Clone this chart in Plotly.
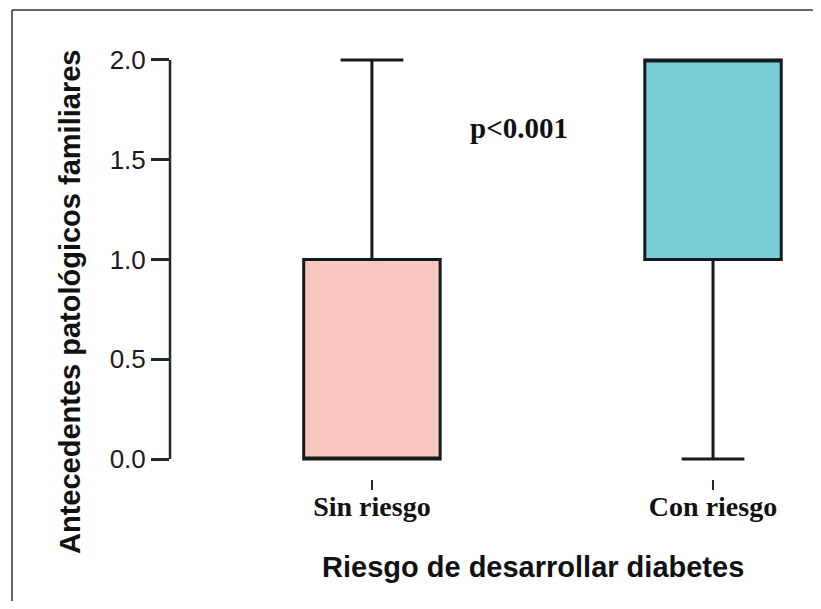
import plotly.graph_objects as go

# Data (box statistics)
groups = ["Sin riesgo", "Con riesgo"]
q1 = [0.0, 1.0]
median = [0.0, 2.0]
q3 = [1.0, 2.0]
lower = [0.0, 0.0]
upper = [2.0, 2.0]
fills = ["#F8C7BF", "#79CED9"]
y_ticks = [0.0, 0.5, 1.0, 1.5, 2.0]
y_ticktext = ["0.0", "0.5", "1.0", "1.5", "2.0"]
x_title = "Riesgo de desarrollar diabetes"
y_title = "Antecedentes patológicos familiares"
p_text = "p<0.001"

OFF = 8  # page body margin
W, H = 821 - 2 * OFF, 609 - 2 * OFF
L, T = 170 - OFF, 40 - OFF
R = W - (800 - OFF)
B = H - (479 - OFF)

fig = go.Figure()
for i, g in enumerate(groups):
    fig.add_trace(go.Box(
        x=[g], q1=[q1[i]], median=[median[i]], q3=[q3[i]],
        lowerfence=[lower[i]], upperfence=[upper[i]],
        fillcolor=fills[i],
        line=dict(color="#151a1c", width=3),
        width=0.4, whiskerwidth=0.46,
        boxpoints=False, showlegend=False, hoverinfo="skip",
    ))

pw = W - L - R
ph = H - T - B

def px2paper_x(px):
    return (px - OFF - L) / pw

def px2paper_y(py):
    return (H - B - (py - OFF)) / ph

right_edge = OFF + W
bottom_edge = OFF + H
shapes = [
    dict(type="line", xref="paper", yref="y", x0=0, x1=0, y0=0, y1=2,
         line=dict(color="#1e2a2e", width=2.5)),
    dict(type="line", xref="paper", yref="paper",
         x0=px2paper_x(12), x1=px2paper_x(right_edge), y0=px2paper_y(10), y1=px2paper_y(10),
         line=dict(color="#333333", width=1.5)),
    dict(type="line", xref="paper", yref="paper",
         x0=px2paper_x(12), x1=px2paper_x(12), y0=px2paper_y(10), y1=px2paper_y(bottom_edge),
         line=dict(color="#333333", width=1.5)),
]

fig.update_layout(
    width=W, height=H,
    margin=dict(l=L, r=R, t=T, b=B, autoexpand=False),
    paper_bgcolor="white", plot_bgcolor="white",
    boxmode="overlay",
    shapes=shapes,
    xaxis=dict(
        type="category", range=[-0.592, 1.255],
        tickmode="array", tickvals=groups,
        ticktext=["<b>" + g + "</b>" for g in groups],
        showgrid=False, zeroline=False, showline=False,
        ticks="outside", ticklen=10, tickwidth=2, tickcolor="#1e2a2e",
        tickfont=dict(family="Liberation Serif", size=28, color="#111111"),
        ticklabelstandoff=-8,
        fixedrange=True,
    ),
    yaxis=dict(
        range=[-0.1, 2.1],
        tickvals=y_ticks, ticktext=y_ticktext,
        showgrid=False, zeroline=False, showline=False,
        ticks="outside", ticklen=18, tickwidth=2.5, tickcolor="#1e2a2e",
        tickfont=dict(family="Liberation Sans", size=26, color="#1a1a1a"),
        fixedrange=True,
    ),
    annotations=[
        dict(text="<b>" + p_text + "</b>", xref="paper", yref="paper",
             x=px2paper_x(519), y=px2paper_y(128), showarrow=False,
             font=dict(family="Liberation Serif", size=29, color="#111111"),
             xanchor="center", yanchor="middle"),
        dict(text="<b>" + x_title + "</b>", xref="paper", yref="paper",
             x=px2paper_x(533), y=px2paper_y(567), showarrow=False,
             font=dict(family="Liberation Sans", size=29, color="#111111"),
             xanchor="center", yanchor="middle"),
        dict(text="<b>" + y_title + "</b>", xref="paper", yref="paper",
             x=px2paper_x(70), y=px2paper_y(302), showarrow=False, textangle=-90,
             font=dict(family="Liberation Sans", size=29, color="#111111"),
             xanchor="center", yanchor="middle"),
    ],
)

fig.write_html("out.html", config={"displayModeBar": False})
